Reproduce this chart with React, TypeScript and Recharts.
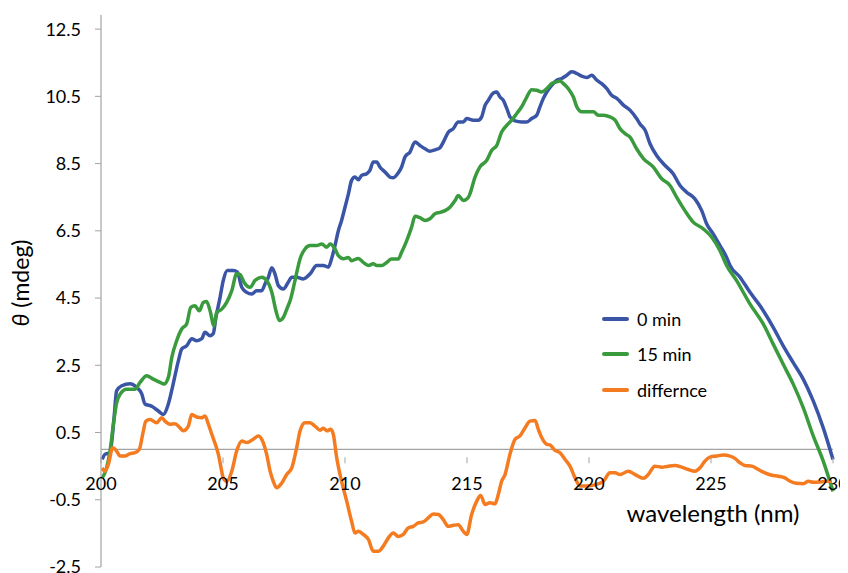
import React from "react";
import { LineChart, Line, XAxis, YAxis, ReferenceLine, Legend } from "recharts";

// ---- data (wavelength in nm, ellipticity in mdeg) ----
const wl0 = [200.05,200.16,200.37,200.53,200.64,200.85,201.19,201.46,201.67,201.8,202.08,202.35,202.55,202.76,202.96,203.17,203.31,203.51,203.72,203.92,204.13,204.26,204.47,204.6,204.71,204.88,205.01,205.18,205.42,205.59,205.77,205.97,206.18,206.38,206.59,206.72,206.86,207.0,207.13,207.27,207.47,207.68,207.82,208.02,208.29,208.57,208.84,209.11,209.32,209.45,209.59,209.73,209.86,210.0,210.14,210.27,210.41,210.55,210.68,210.89,211.02,211.16,211.3,211.43,211.64,211.84,211.98,212.18,212.32,212.46,212.66,212.87,213.07,213.28,213.48,213.69,213.89,214.03,214.24,214.44,214.64,214.85,214.99,215.26,215.46,215.6,215.74,215.87,216.08,216.22,216.35,216.49,216.63,216.76,216.97,217.24,217.45,217.65,217.86,217.99,218.13,218.27,218.47,218.68,218.88,219.09,219.29,219.5,219.7,219.91,220.11,220.32,220.52,220.73,220.93,221.14,221.41,221.68,221.95,222.09,222.3,222.5,222.77,223.11,223.45,223.73,224.0,224.34,224.62,224.82,225.09,225.37,225.64,225.78,226.19,226.6,227.01,227.55,227.96,228.37,228.78,229.19,229.6,230.0];
const theta0 = [-0.3,-0.15,-0.1,0.9,1.74,1.89,1.95,1.84,1.65,1.35,1.28,1.14,1.04,1.35,1.95,2.63,2.99,3.08,3.29,3.23,3.29,3.48,3.38,3.44,3.92,4.52,5.02,5.32,5.32,5.27,4.82,4.67,4.62,4.72,4.72,4.92,5.12,5.4,5.22,4.87,4.77,4.98,5.12,5.12,5.07,5.22,5.47,5.47,5.42,5.67,6.06,6.51,6.81,7.2,7.6,8.0,8.1,8.02,8.15,8.2,8.3,8.55,8.55,8.4,8.25,8.1,8.08,8.22,8.4,8.7,8.84,9.14,9.04,8.94,8.87,8.91,8.97,9.14,9.44,9.54,9.74,9.74,9.84,9.79,9.79,9.89,10.23,10.38,10.6,10.63,10.48,10.38,10.14,9.89,9.77,9.74,9.74,9.84,9.94,10.19,10.44,10.63,10.83,10.98,11.03,11.13,11.23,11.18,11.1,11.06,11.13,10.98,10.88,10.73,10.53,10.44,10.24,10.09,9.84,9.68,9.49,9.09,8.74,8.45,8.2,7.85,7.65,7.45,7.1,6.71,6.41,6.06,5.71,5.47,5.12,4.67,4.27,3.63,3.08,2.58,2.09,1.44,0.64,-0.3];

const wl15 = [200.05,200.23,200.37,200.5,200.64,200.78,201.05,201.39,201.6,201.87,202.14,202.42,202.58,202.76,202.9,203.1,203.31,203.51,203.68,203.85,204.03,204.19,204.33,204.47,204.63,204.74,204.95,205.15,205.36,205.56,205.7,205.86,206.11,206.31,206.59,206.79,207.0,207.17,207.31,207.47,207.64,207.75,207.95,208.16,208.36,208.57,208.84,209.05,209.25,209.39,209.59,209.73,209.93,210.14,210.27,210.55,210.75,210.96,211.16,211.3,211.5,211.71,211.91,212.18,212.32,212.53,212.73,212.87,213.07,213.28,213.48,213.69,213.89,214.1,214.3,214.51,214.64,214.85,215.06,215.12,215.33,215.53,215.81,216.01,216.22,216.42,216.63,216.83,217.04,217.24,217.45,217.65,217.86,218.06,218.27,218.47,218.68,218.81,218.95,219.15,219.36,219.5,219.7,219.91,220.18,220.38,220.59,220.86,221.07,221.27,221.48,221.68,221.95,222.23,222.63,222.98,223.32,223.59,223.93,224.27,224.68,225.03,225.37,225.64,226.05,226.6,227.14,227.55,227.96,228.37,228.78,229.19,229.6,230.0];
const theta15 = [-0.85,-0.55,-0.05,0.7,1.38,1.64,1.79,1.79,1.99,2.19,2.09,1.99,1.94,2.14,2.73,3.23,3.58,3.73,4.22,4.27,4.12,4.37,4.4,4.12,3.68,4.07,4.17,4.37,4.72,5.22,5.2,4.97,4.82,5.02,5.12,5.02,4.67,4.12,3.83,3.92,4.22,4.42,5.02,5.67,5.96,6.06,6.06,6.11,6.01,6.11,5.96,5.76,5.67,5.71,5.61,5.68,5.56,5.47,5.52,5.47,5.47,5.56,5.66,5.66,5.86,6.21,6.61,6.93,6.89,6.81,6.86,7.01,7.05,7.1,7.2,7.4,7.55,7.4,7.5,7.6,8.1,8.4,8.6,8.89,9.04,9.44,9.64,9.79,9.99,10.19,10.48,10.7,10.68,10.63,10.73,10.88,10.93,10.96,10.88,10.73,10.48,10.19,10.04,10.04,10.04,9.94,9.94,9.89,9.79,9.54,9.39,9.29,8.94,8.65,8.4,8.05,7.85,7.5,7.1,6.76,6.56,6.31,5.91,5.47,5.02,4.32,3.73,3.13,2.53,1.94,1.24,0.4,-0.35,-1.25];

const wlDiff = [200.05,200.16,200.3,200.48,200.64,200.78,200.98,201.19,201.39,201.57,201.71,201.84,202.01,202.28,202.49,202.62,202.83,203.03,203.24,203.37,203.58,203.72,203.92,204.13,204.26,204.4,204.54,204.71,204.81,204.92,205.01,205.15,205.36,205.56,205.77,205.97,206.24,206.45,206.65,206.79,206.93,207.06,207.2,207.41,207.61,207.82,208.02,208.16,208.36,208.57,208.77,208.98,209.11,209.27,209.41,209.52,209.66,209.86,210.07,210.27,210.41,210.55,210.75,210.96,211.16,211.37,211.57,211.77,211.98,212.18,212.39,212.59,212.8,213.0,213.21,213.41,213.62,213.83,214.03,214.23,214.44,214.64,214.85,214.99,215.19,215.4,215.56,215.74,215.94,216.15,216.28,216.42,216.56,216.76,216.97,217.17,217.38,217.58,217.79,217.92,218.06,218.27,218.4,218.61,218.81,219.02,219.22,219.43,219.63,219.91,220.31,220.59,220.86,221.07,221.27,221.61,221.89,222.23,222.43,222.7,222.98,223.25,223.52,223.8,224.07,224.34,224.55,224.75,224.96,225.23,225.5,225.78,225.98,226.19,226.39,226.67,226.94,227.21,227.49,227.76,228.03,228.24,228.51,228.78,228.99,229.19,229.47,229.74,229.95];
const thetaDiff = [-0.55,-0.65,-0.45,0.05,-0.05,-0.2,-0.2,-0.13,-0.1,0.0,0.45,0.84,0.89,0.79,0.94,0.84,0.75,0.76,0.64,0.55,0.69,1.04,0.96,0.94,0.99,0.75,0.45,0.1,-0.15,-0.55,-0.85,-0.95,-0.65,-0.05,0.25,0.2,0.3,0.4,0.2,-0.15,-0.65,-0.95,-1.14,-1.0,-0.75,-0.55,0.05,0.55,0.79,0.79,0.69,0.57,0.63,0.55,0.6,0.45,-0.25,-0.95,-1.54,-2.14,-2.49,-2.44,-2.53,-2.68,-3.03,-3.03,-2.88,-2.64,-2.49,-2.59,-2.53,-2.34,-2.29,-2.19,-2.16,-2.04,-1.92,-1.94,-2.09,-2.29,-2.26,-2.24,-2.44,-2.53,-1.94,-1.54,-1.37,-1.64,-1.59,-1.62,-1.35,-0.95,-0.75,-0.15,0.3,0.4,0.64,0.84,0.86,0.6,0.35,0.15,0.13,-0.03,-0.1,-0.3,-0.5,-0.85,-1.09,-1.09,-1.04,-0.95,-0.7,-0.7,-0.75,-0.65,-0.75,-0.86,-0.75,-0.5,-0.53,-0.5,-0.48,-0.53,-0.6,-0.65,-0.55,-0.35,-0.23,-0.2,-0.17,-0.2,-0.27,-0.4,-0.48,-0.5,-0.6,-0.7,-0.77,-0.8,-0.85,-0.95,-1.01,-1.02,-0.95,-0.98,-0.97,-0.95,-0.95];

const seriesNames = ["0 min", "15 min", "differnce"];
const seriesColors = ["#3A55A6", "#3A9B3E", "#F47B20"];

const xTicks = [200, 205, 210, 215, 220, 225, 230];
const yTickValues = [-3.5, -1.5, 0.5, 2.5, 4.5, 6.5, 8.5, 10.5, 12.5];
const yTickLabels = ["-2.5", "-0.5", "0.5", "2.5", "4.5", "6.5", "8.5", "10.5", "12.5"];
const yDomain = [-3.5, 12.92];

const xTitle = "wavelength (nm)";
const yTitleSymbol = "θ";
const yTitleRest = " (mdeg)";

const toRows = (xs: number[], ys: number[]) => xs.map((w, i) => ({ wl: w, v: ys[i] }));
const seriesData = [toRows(wl0, theta0), toRows(wl15, theta15), toRows(wlDiff, thetaDiff)];

const FONT = "Lato, 'Open Sans', sans-serif";
const AXIS_GRAY = "#A3A3A3";

const CHART_W = 840;
const CHART_H = 565;
const MARGIN = { top: 7, right: 15, bottom: 0, left: 0 };
const X_AXIS_H = 6;
const PLOT_H = CHART_H - MARGIN.top - MARGIN.bottom - X_AXIS_H;
const ZERO_OFFSET = (PLOT_H * (0 - yDomain[0])) / (yDomain[1] - yDomain[0]);

const XTick = (props: any) => {
  const { x, y, payload } = props;
  const zy = y - ZERO_OFFSET;
  return (
    <g>
      <line x1={x} x2={x} y1={zy} y2={zy + 6} stroke={AXIS_GRAY} strokeWidth={1} />
      <text x={x} y={zy + 33} textAnchor="middle" fontFamily={FONT} fontSize={18} fill="#000">
        {payload.value}
      </text>
    </g>
  );
};

const XTitle = (props: any) => {
  const vb = props.viewBox || {};
  return (
    <text
      x={vb.x + vb.width - 120}
      y={vb.y - 45}
      textAnchor="middle"
      fontFamily={FONT}
      fontSize={24}
      fill="#000"
    >
      {xTitle}
    </text>
  );
};

const YTitle = (props: any) => {
  const vb = props.viewBox || {};
  const cx = 21;
  const cy = vb.y + vb.height / 2 - 8;
  return (
    <text
      x={cx}
      y={cy}
      transform={`rotate(-90, ${cx}, ${cy})`}
      textAnchor="middle"
      fontFamily={FONT}
      fontSize={23}
      fill="#000"
    >
      <tspan fontStyle="italic">{yTitleSymbol}</tspan>
      <tspan>{yTitleRest}</tspan>
    </text>
  );
};

const LegendBox = () => (
  <div style={{ fontFamily: FONT, fontSize: 18, color: "#000" }}>
    {seriesNames.map((name, i) => (
      <div key={name} style={{ display: "flex", alignItems: "center", height: 35.5 }}>
        <div style={{ width: 27, height: 4, background: seriesColors[i], marginRight: 8, borderRadius: 2 }} />
        <span>{name}</span>
      </div>
    ))}
  </div>
);

export default function App() {
  return (
    <LineChart width={CHART_W} height={CHART_H} margin={MARGIN}>
      <XAxis
        dataKey="wl"
        type="number"
        domain={[200, 230]}
        ticks={xTicks}
        axisLine={false}
        tickLine={false}
        height={X_AXIS_H}
        interval={0}
        tick={(p: any) => <XTick {...p} />}
        label={{ content: (p: any) => <XTitle {...p} /> }}
      />
      <YAxis
        type="number"
        domain={yDomain}
        ticks={yTickValues}
        allowDataOverflow
        width={93}
        interval={0}
        axisLine={{ stroke: AXIS_GRAY, strokeWidth: 1.2 }}
        tickLine={{ stroke: AXIS_GRAY }}
        tickSize={6}
        tickMargin={14}
        tick={{ fontFamily: FONT, fontSize: 18, fill: "#000" }}
        tickFormatter={(v: number) => yTickLabels[yTickValues.indexOf(v)] ?? String(v)}
        label={{ content: (p: any) => <YTitle {...p} /> }}
      />
      <ReferenceLine y={0} stroke={AXIS_GRAY} strokeWidth={1.2} />
      <Legend
        layout="vertical"
        verticalAlign="middle"
        align="center"
        wrapperStyle={{ left: 594, top: 293, width: 160 }}
        content={() => <LegendBox />}
      />
      {seriesData.map((d, i) => (
        <Line
          key={seriesNames[i]}
          data={d}
          dataKey="v"
          name={seriesNames[i]}
          type="monotone"
          stroke={seriesColors[i]}
          strokeWidth={3.5}
          dot={false}
          activeDot={false}
          isAnimationActive={false}
        />
      ))}
    </LineChart>
  );
}
